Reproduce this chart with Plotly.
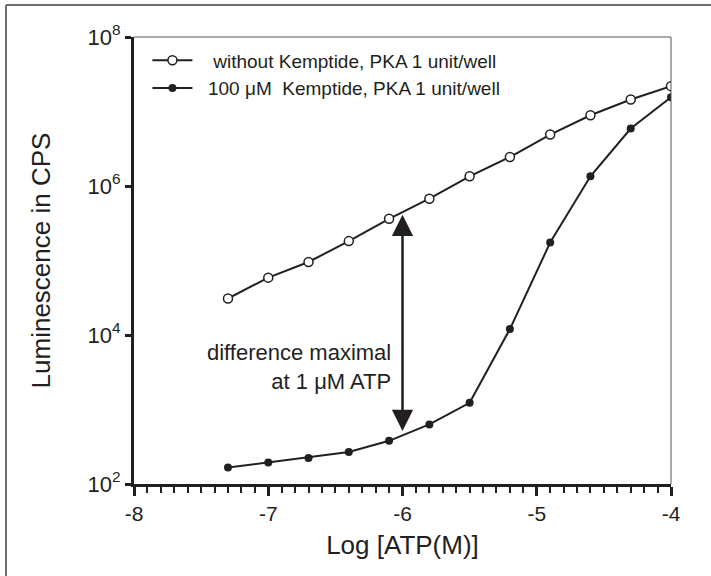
import math
import plotly.graph_objects as go

# ---- data ----
log_atp = [-7.3, -7.0, -6.7, -6.4, -6.1, -5.8, -5.5, -5.2, -4.9, -4.6, -4.3, -4.0]
cps_without = [30900, 58900, 95500, 182000, 363000, 676000, 1350000, 2450000,
               4900000, 8900000, 14500000, 21900000]
cps_with = [166, 195, 224, 269, 380, 631, 1230, 12000, 174000, 1350000,
            5900000, 15500000]
name_without = "   without Kemptide, PKA 1 unit/well"
name_with = "  100 μM  Kemptide, PKA 1 unit/well"
x_tickvals = [-8, -7, -6, -5, -4]
x_ticktext = ["-8", "-7", "-6", "-5", "-4"]
y_tickvals = [1e2, 1e4, 1e6, 1e8]
y_ticktext = ["10<sup>2</sup>", "10<sup>4</sup>", "10<sup>6</sup>", "10<sup>8</sup>"]
arrow_x = -6.0
arrow_top = 410000
arrow_bottom = 490
note_text = "difference maximal<br>at 1 μM ATP"

W, H = 711, 576
L, R, T, B = 134, 40, 37, 92
FONT = "Liberation Sans, Arial, sans-serif"
INK = "#231f20"

fig = go.Figure()
fig.add_trace(go.Scatter(
    x=log_atp, y=cps_without, mode="lines+markers", name=name_without,
    line=dict(color=INK, width=2),
    marker=dict(symbol="circle", size=9, color="white", line=dict(color=INK, width=1.5)),
))
fig.add_trace(go.Scatter(
    x=log_atp, y=cps_with, mode="lines+markers", name=name_with,
    line=dict(color=INK, width=2),
    marker=dict(symbol="circle", size=8, color=INK, line=dict(color=INK, width=0)),
))

fig.add_annotation(
    x=arrow_x, y=math.log10(arrow_top), ax=arrow_x, ay=math.log10(arrow_bottom),
    xref="x", yref="y", axref="x", ayref="y", text="", showarrow=True,
    arrowhead=2, startarrowhead=2, arrowside="end+start", arrowsize=1.7,
    startarrowsize=1.7, arrowwidth=2.5, arrowcolor=INK,
)
fig.add_annotation(
    x=-6.07, y=3.57, xref="x", yref="y", text=note_text, showarrow=False,
    xanchor="right", yanchor="middle", align="right",
    font=dict(family=FONT, size=22, color=INK),
)

pw = W - L - R
ph = H - T - B
# thin top and right frame lines
fig.add_shape(type="line", xref="paper", yref="paper", x0=0, x1=1, y0=1, y1=1,
              line=dict(color="#555555", width=1))
fig.add_shape(type="line", xref="paper", yref="paper", x0=1, x1=1, y0=0, y1=1,
              line=dict(color="#555555", width=1))
# outer figure border (left and top visible)
bx = (6 - L) / pw
by = (H - B - 5) / ph
fig.add_shape(type="line", xref="paper", yref="paper", x0=bx, x1=(W + 5 - L) / pw,
              y0=by, y1=by, line=dict(color="#6e6e6e", width=2))
fig.add_shape(type="line", xref="paper", yref="paper", x0=bx, x1=bx,
              y0=by, y1=-(B + 5) / ph, line=dict(color="#6e6e6e", width=2))

fig.update_layout(
    width=W, height=H, margin=dict(l=L, r=R, t=T, b=B),
    paper_bgcolor="white", plot_bgcolor="white",
    font=dict(family=FONT, color=INK),
    showlegend=True,
    legend=dict(x=0.025, y=0.99, xanchor="left", yanchor="top",
                bgcolor="rgba(0,0,0,0)", font=dict(family=FONT, size=19, color=INK),
                itemwidth=40, tracegroupgap=0),
    xaxis=dict(
        range=[-8, -4], tickvals=x_tickvals, ticktext=x_ticktext,
        showgrid=False, zeroline=False, showline=True, linecolor=INK, linewidth=3,
        ticks="outside", ticklen=9, tickwidth=3, tickcolor=INK,
        tickfont=dict(family=FONT, size=21, color=INK),
        minor=dict(dtick=0.1, ticks="outside", ticklen=6, tickwidth=2, tickcolor=INK,
                   showgrid=False),
        title=dict(text="Log [ATP(M)]", font=dict(family=FONT, size=26, color=INK),
                   standoff=12),
    ),
    yaxis=dict(
        type="log", range=[2, 8], tickvals=y_tickvals, ticktext=y_ticktext,
        showgrid=False, zeroline=False, showline=True, linecolor=INK, linewidth=3,
        ticks="outside", ticklen=6, tickwidth=3, tickcolor=INK,
        tickfont=dict(family=FONT, size=22, color=INK),
        title=dict(text="Luminescence in CPS", font=dict(family=FONT, size=26, color=INK),
                   standoff=30),
    ),
)

fig.write_html("out.html")
